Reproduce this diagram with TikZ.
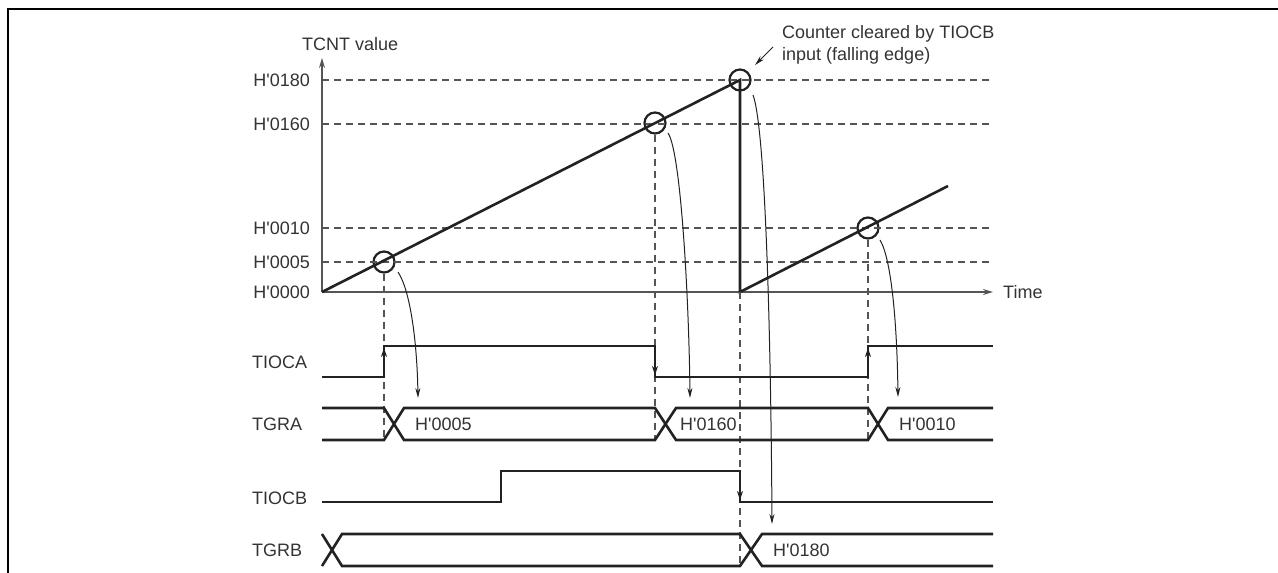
\documentclass[tikz,border=0pt]{standalone}
\usepackage{fontspec}
\setmainfont{Liberation Sans}[Ligatures=TeXOff]
\usetikzlibrary{arrows.meta,positioning}
\definecolor{inkline}{HTML}{222222}
\definecolor{inkgray}{HTML}{555555}
\definecolor{inktext}{HTML}{333333}
\tikzset{
  sigtext/.style={
    font=\fontsize{18}{22}\selectfont,
    text=inktext,
    inner sep=0pt
  },
  levellabel/.style={sigtext, anchor=east},
  rowlabel/.style={sigtext, anchor=west},
  waveline/.style={line width=2.6pt, draw=inkline},
  axisline/.style={line width=1.5pt, draw=inkgray, -{Stealth[length=10pt,width=6pt]}},
  guideline/.style={line width=1.3pt, draw=inkgray, dash pattern=on 7pt off 5pt},
  hitmark/.style={
    circle,
    draw=inkline,
    line width=2.2pt,
    minimum size=21pt,
    inner sep=0pt
  },
  causeline/.style={line width=1pt, draw=inkline, -{Stealth[length=10pt,width=5pt]}},
  edgetip/.style={line width=1pt, draw=inkline, -{Stealth[length=9pt,width=6pt]}}
}

\begin{document}
\begin{tikzpicture}[x=1pt, y=-1pt]
  \useasboundingbox (0,0) rectangle (1278,573);
  \draw[line width=2.5pt] (8,573) -- (8,9) -- (1278,9);

  \coordinate (orig) at (322,292);
  \coordinate (ytop) at (322,58);
  \coordinate (xend) at (993,292);
  \coordinate (drop) at (740,292);
  \coordinate (rampend) at (948,186);

  \node[hitmark] (hit5) at (384,262) {};
  \node[hitmark] (hit160) at (655,123) {};
  \node[hitmark] (hit180) at (740,80) {};
  \node[hitmark] (hit10) at (868,228) {};

  \foreach \yy in {80,124,228,262}
    \draw[guideline] (322,\yy) -- (993,\yy);

  \draw[axisline] (orig) -- (ytop);
  \draw[axisline] (orig) -- (xend);
  \node[sigtext, anchor=base west] (ytitle) at (302,50) {TCNT value};
  \node[sigtext, anchor=west] (xtitle) at (1003,292) {Time};
  \foreach \lv/\yy in {0000/292, 0005/262, 0010/228, 0160/124, 0180/80}
    \node[levellabel] (lv\lv) at (310,\yy) {H'\lv};

  \draw[waveline] (orig) -- (hit180.center) -- (drop) -- (rampend);

  \node[sigtext, anchor=base west] (cleartop) at (782,38) {Counter cleared by TIOCB};
  \node[sigtext, anchor=base west] (clearbot) at (782,60) {input (falling edge)};
  \coordinate (clearfrom) at (773,47);
  \coordinate (clearto) at (755,65);
  \draw[causeline] (clearfrom) -- (clearto);

  \draw[guideline] (hit5.south) -- (384,440);
  \draw[guideline] (hit160.south) -- (655,440);
  \draw[guideline] (hit10.south) -- (868,440);
  \draw[guideline] (drop) -- (740,566);

  \node[rowlabel] (tioca) at (252,362) {TIOCA};
  \node[rowlabel] (tgra) at (252,424) {TGRA};
  \node[rowlabel] (tiocb) at (252,498) {TIOCB};
  \node[rowlabel] (tgrb) at (252,550) {TGRB};

  \draw[waveline] (322,377) -- (384,377) -- (384,346) -- (655,346) -- (655,377)
    -- (868,377) -- (868,346) -- (993,346);
  \draw[edgetip] (384,366) -- (384,348);
  \draw[edgetip] (655,357) -- (655,375);
  \draw[edgetip] (868,366) -- (868,348);

  \draw[waveline] (322,408) -- (384,408) -- (404,440) -- (655,440) -- (676,408)
    -- (868,408) -- (888,440) -- (993,440);
  \draw[waveline] (322,440) -- (384,440) -- (404,408) -- (655,408) -- (676,440)
    -- (868,440) -- (888,408) -- (993,408);
  \node[sigtext, anchor=west] (val5) at (415,424) {H'0005};
  \node[sigtext, anchor=west] (val160) at (680,424) {H'0160};
  \node[sigtext, anchor=west] (val10) at (899,424) {H'0010};

  \draw[waveline] (322,502) -- (501,502) -- (501,471) -- (740,471) -- (740,502) -- (993,502);
  \draw[edgetip] (740,482) -- (740,500);

  \draw[waveline] (322,534) -- (342,566) -- (740,566) -- (762,534) -- (993,534);
  \draw[waveline] (322,566) -- (342,534) -- (740,534) -- (762,566) -- (993,566);
  \node[sigtext, anchor=west] (val180) at (773,550) {H'0180};

  \coordinate (from5) at (398,272);
  \coordinate (to5) at (418,398);
  \coordinate (from160) at (668,133);
  \coordinate (to160) at (690,398);
  \coordinate (from180) at (753,95);
  \coordinate (to180) at (772,524);
  \coordinate (from10) at (880,240);
  \coordinate (to10) at (898,397);
  \draw[causeline] (from5) .. controls (410,290) and (417,340) .. (to5);
  \draw[causeline] (from160) .. controls (681,152) and (689,300) .. (to160);
  \draw[causeline] (from180) .. controls (766,130) and (771,350) .. (to180);
  \draw[causeline] (from10) .. controls (891,258) and (897,320) .. (to10);
\end{tikzpicture}
\end{document}
